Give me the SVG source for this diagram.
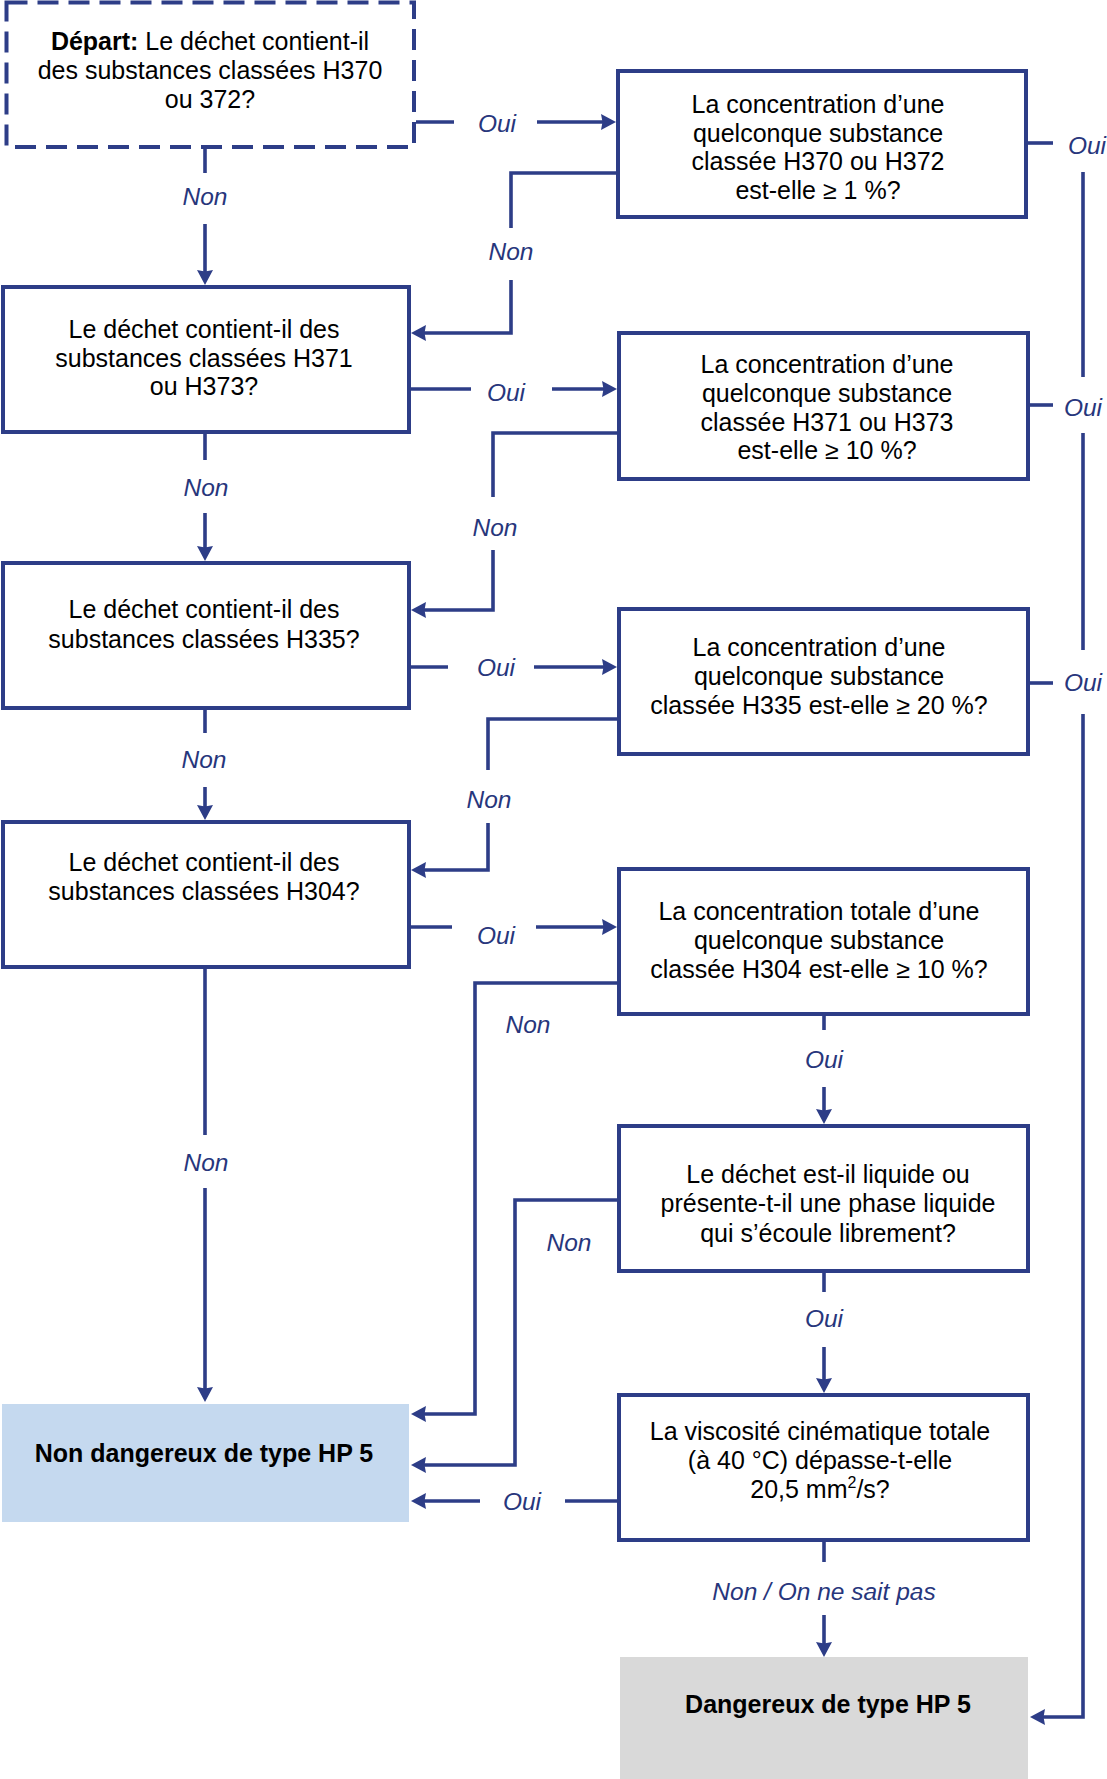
<svg xmlns="http://www.w3.org/2000/svg" width="1107" height="1779" viewBox="0 0 1107 1779">
<style>
.box{fill:#fff;stroke:#2d3d87;stroke-width:4}
.dash{fill:#fff;stroke:#2d3d87;stroke-width:4;stroke-dasharray:21 10}
.t{font-family:"Liberation Sans",Arial,sans-serif;font-size:25px;fill:#000;text-anchor:middle}
.b{font-weight:bold}
.c{fill:none;stroke:#2d3d87;stroke-width:3.6}
.a{marker-end:url(#ah)}
.l{font-family:"Liberation Sans",Arial,sans-serif;font-style:italic;font-size:24.5px;fill:#27367c;text-anchor:middle}
</style>
<defs>
<marker id="ah" markerUnits="userSpaceOnUse" markerWidth="15" markerHeight="16" viewBox="0 0 15 16" refX="9" refY="8" orient="auto">
<path d="M0,0 L15,8 L0,16 L1.5,8 Z" fill="#2d3d87"/>
</marker>
</defs>
<rect width="1107" height="1779" fill="#fff"/>

<g id="connectors">
<path class="c" d="M205,149 V173"/>
<path class="c a" d="M205,224 V279"/>
<path class="c" d="M416,122 H454"/>
<path class="c a" d="M537,122 H610"/>
<path class="c" d="M616,173 H511 V228"/>
<path class="c a" d="M511,280 V333 H417"/>
<path class="c" d="M205,434 V460"/>
<path class="c a" d="M205,513 V555"/>
<path class="c" d="M411,389 H471"/>
<path class="c a" d="M552,389 H611"/>
<path class="c" d="M617,433 H493 V497"/>
<path class="c a" d="M493,550 V610 H417"/>
<path class="c" d="M205,710 V733"/>
<path class="c a" d="M205,787 V814"/>
<path class="c" d="M411,667 H448"/>
<path class="c a" d="M534,667 H611"/>
<path class="c" d="M617,719 H488 V770"/>
<path class="c a" d="M488,823 V870 H417"/>
<path class="c" d="M411,927 H452"/>
<path class="c a" d="M536,927 H611"/>
<path class="c" d="M205,969 V1135"/>
<path class="c a" d="M205,1188 V1396"/>
<path class="c a" d="M617,983 H475 V1414 H417"/>
<path class="c" d="M824,1016 V1030"/>
<path class="c a" d="M824,1087 V1118"/>
<path class="c a" d="M617,1200 H515 V1465 H417"/>
<path class="c" d="M824,1273 V1292"/>
<path class="c a" d="M824,1347 V1387"/>
<path class="c" d="M617,1501 H565"/>
<path class="c a" d="M480,1501 H417"/>
<path class="c" d="M824,1542 V1562"/>
<path class="c a" d="M824,1615 V1651"/>
<path class="c" d="M1028,143 H1053"/>
<path class="c" d="M1083,172 V377"/>
<path class="c" d="M1030,405 H1053"/>
<path class="c" d="M1083,433 V650"/>
<path class="c" d="M1030,683 H1053"/>
<path class="c a" d="M1083,714 V1717 H1036"/>

<text class="l" x="205" y="205">Non</text>
<text class="l" x="497" y="132">Oui</text>
<text class="l" x="511" y="260">Non</text>
<text class="l" x="206" y="496">Non</text>
<text class="l" x="506" y="401">Oui</text>
<text class="l" x="495" y="536">Non</text>
<text class="l" x="496" y="676">Oui</text>
<text class="l" x="204" y="768">Non</text>
<text class="l" x="489" y="808">Non</text>
<text class="l" x="496" y="944">Oui</text>
<text class="l" x="528" y="1033">Non</text>
<text class="l" x="206" y="1171">Non</text>
<text class="l" x="824" y="1068">Oui</text>
<text class="l" x="569" y="1251">Non</text>
<text class="l" x="824" y="1327">Oui</text>
<text class="l" x="522" y="1510">Oui</text>
<text class="l" x="824" y="1600">Non / On ne sait pas</text>
<text class="l" x="1087" y="154">Oui</text>
<text class="l" x="1083" y="416">Oui</text>
<text class="l" x="1083" y="691">Oui</text>
</g>

<g id="depart">
<rect class="dash" x="6.5" y="2.5" width="407.5" height="144.5"/>
<text class="t" x="210" y="50"><tspan class="b">Départ:</tspan> Le déchet contient-il</text>
<text class="t" x="210" y="79">des substances classées H370</text>
<text class="t" x="210" y="108">ou 372?</text>
</g>

<g id="conc-h370">
<rect class="box" x="618" y="71" width="408" height="146"/>
<text class="t" x="818" y="113">La concentration d’une</text>
<text class="t" x="818" y="142">quelconque substance</text>
<text class="t" x="818" y="170">classée H370 ou H372</text>
<text class="t" x="818" y="199">est-elle ≥ 1 %?</text>
</g>

<g id="q-h371">
<rect class="box" x="3" y="287" width="406" height="145"/>
<text class="t" x="204" y="338">Le déchet contient-il des</text>
<text class="t" x="204" y="367">substances classées H371</text>
<text class="t" x="204" y="395">ou H373?</text>
</g>

<g id="conc-h371">
<rect class="box" x="619" y="333" width="409" height="146"/>
<text class="t" x="827" y="373">La concentration d’une</text>
<text class="t" x="827" y="402">quelconque substance</text>
<text class="t" x="827" y="431">classée H371 ou H373</text>
<text class="t" x="827" y="459">est-elle ≥ 10 %?</text>
</g>

<g id="q-h335">
<rect class="box" x="3" y="563" width="406" height="145"/>
<text class="t" x="204" y="618">Le déchet contient-il des</text>
<text class="t" x="204" y="648">substances classées H335?</text>
</g>

<g id="conc-h335">
<rect class="box" x="619" y="609" width="409" height="145"/>
<text class="t" x="819" y="656">La concentration d’une</text>
<text class="t" x="819" y="685">quelconque substance</text>
<text class="t" x="819" y="714">classée H335 est-elle ≥ 20 %?</text>
</g>

<g id="q-h304">
<rect class="box" x="3" y="822" width="406" height="145"/>
<text class="t" x="204" y="871">Le déchet contient-il des</text>
<text class="t" x="204" y="900">substances classées H304?</text>
</g>

<g id="conc-h304">
<rect class="box" x="619" y="869" width="409" height="145"/>
<text class="t" x="819" y="920">La concentration totale d’une</text>
<text class="t" x="819" y="949">quelconque substance</text>
<text class="t" x="819" y="978">classée H304 est-elle ≥ 10 %?</text>
</g>

<g id="q-liquide">
<rect class="box" x="619" y="1126" width="409" height="145"/>
<text class="t" x="828" y="1183">Le déchet est-il liquide ou</text>
<text class="t" x="828" y="1212">présente-t-il une phase liquide</text>
<text class="t" x="828" y="1242">qui s’écoule librement?</text>
</g>

<g id="q-viscosite">
<rect class="box" x="619" y="1395" width="409" height="145"/>
<text class="t" x="820" y="1440">La viscosité cinématique totale</text>
<text class="t" x="820" y="1469">(à 40 °C) dépasse-t-elle</text>
<text class="t" x="820" y="1498">20,5 mm<tspan font-size="16" dy="-10">2</tspan><tspan dy="10">/s?</tspan></text>
</g>

<g id="non-dangereux">
<rect x="2" y="1404" width="407" height="118" fill="#c5d9ef"/>
<text class="t b" x="204" y="1462">Non dangereux de type HP 5</text>
</g>

<g id="dangereux">
<rect x="620" y="1657" width="408" height="122" fill="#d9d9d9"/>
<text class="t b" x="828" y="1713">Dangereux de type HP 5</text>
</g>
</svg>
